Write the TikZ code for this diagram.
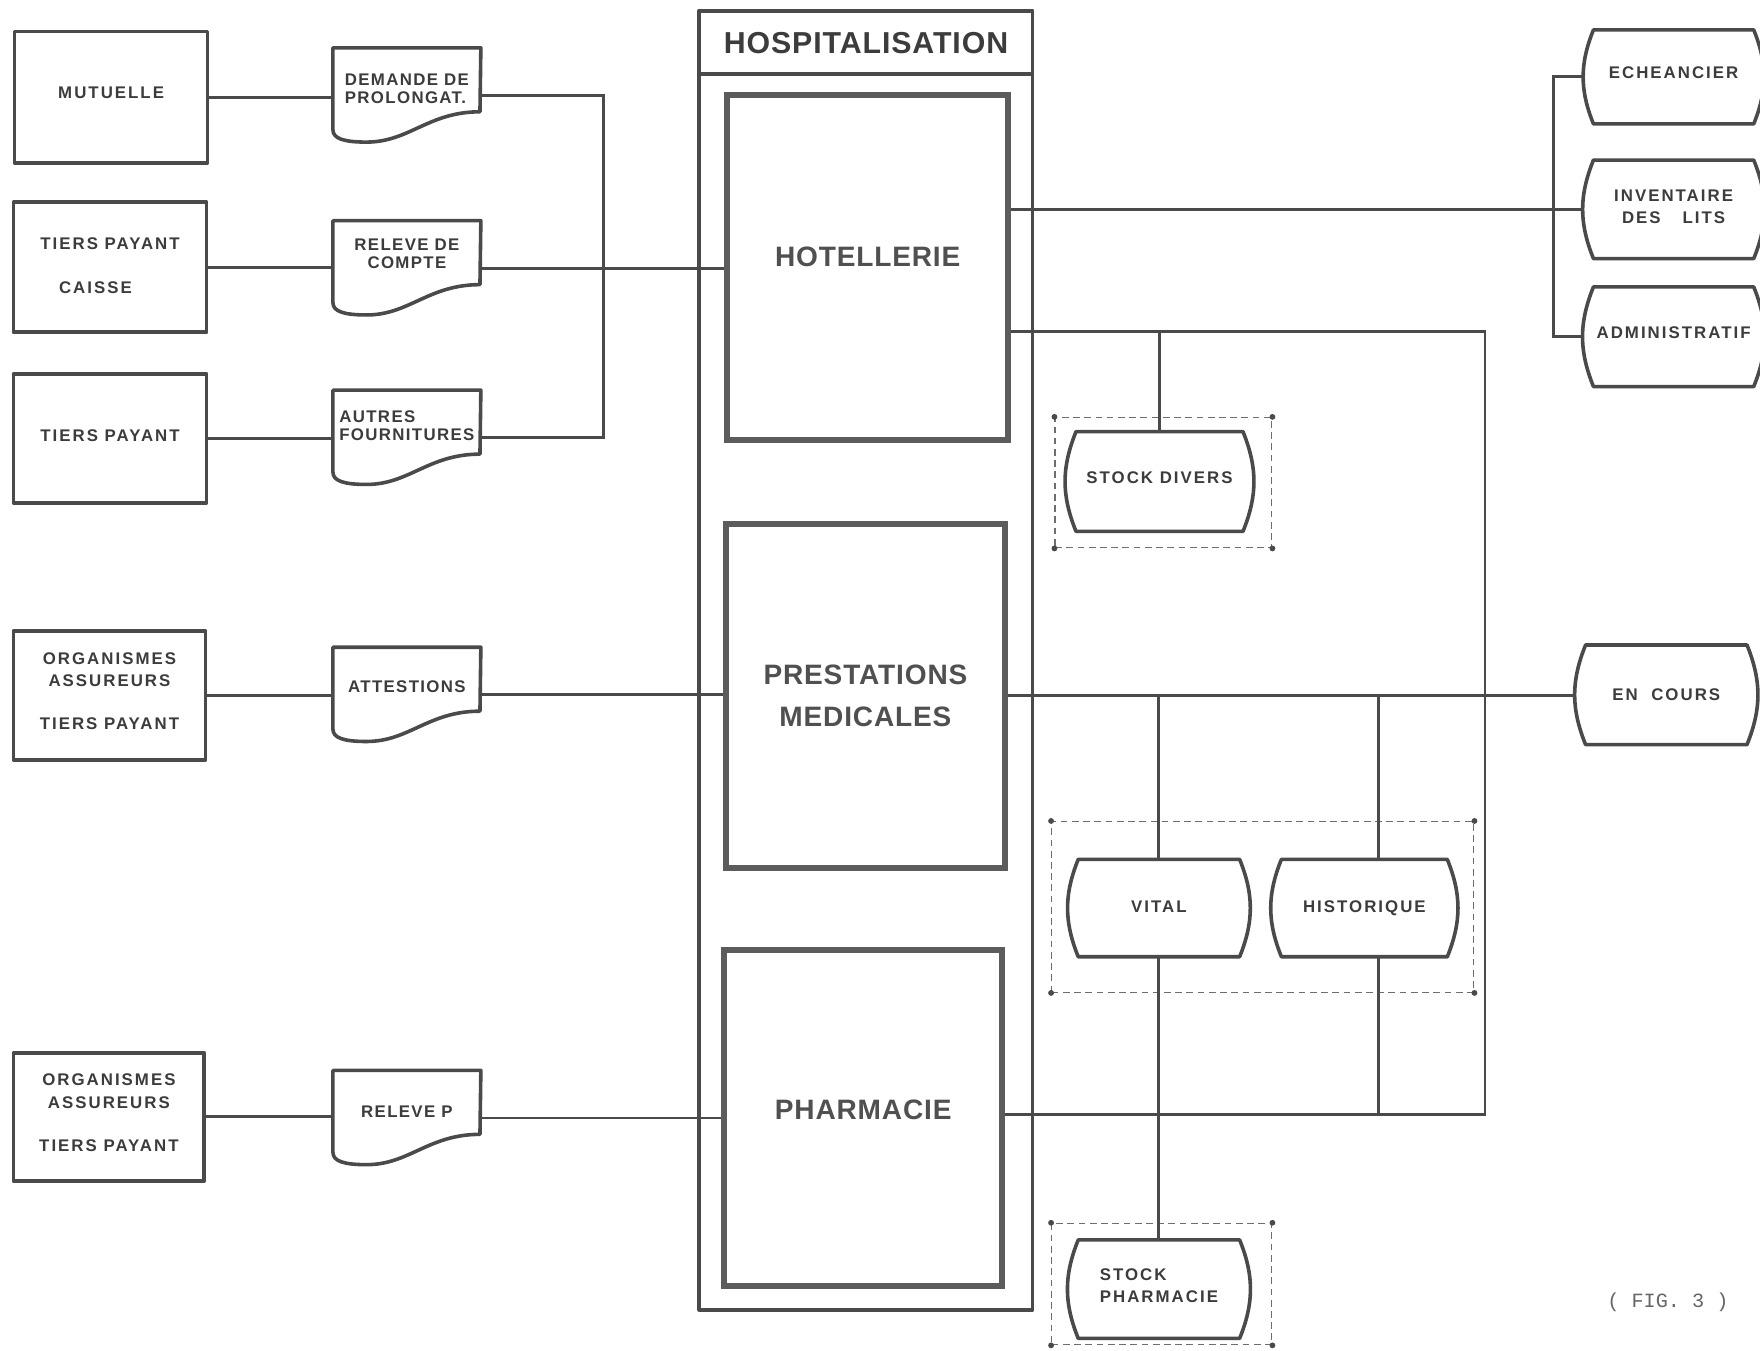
\documentclass[tikz,border=0pt]{standalone}
\usepackage{fontspec}
\setmainfont{Liberation Sans}
\newfontfamily\lblfam[LetterSpace=12]{Liberation Sans}
\newfontfamily\docfam[LetterSpace=8]{Liberation Sans}
\newfontfamily\bigfam[LetterSpace=3]{Liberation Sans}
\newfontfamily\figfam{Liberation Mono}
\usetikzlibrary{calc}
\definecolor{ink}{HTML}{4A4A4A}
\definecolor{txt}{HTML}{3C3C3C}
\newcommand\lblfont{\lblfam\bfseries\fontsize{7.5}{10}\selectfont}
\newcommand\docfont{\docfam\bfseries\fontsize{7.5}{8}\selectfont}
\newcommand\bigfont{\bigfam\bfseries\fontsize{12.5}{18.5}\selectfont}
\newcommand\titlefont{\bigfam\bfseries\fontsize{13.5}{16}\selectfont}
\newcommand\lines[2]{\begin{tabular}[t]{@{}#1@{}}#2\end{tabular}}
\newcommand\storepath[1]{%
  \draw[shp] ($(#1.north west)+(9,0)$) -- ($(#1.north east)+(-9,0)$)
    to[bend left=22] ($(#1.south east)+(-9,0)$) -- ($(#1.south west)+(9,0)$)
    to[bend left=22] cycle;}
\newcommand\docpath[1]{%
  \draw[shp] (#1.north west) -- (#1.north east) -- ($(#1.north west)+(131,57)$)
    .. controls ($(#1.north west)+(85,57)$) and ($(#1.north west)+(68,84)$) .. ($(#1.north west)+(30,84)$)
    .. controls ($(#1.north west)+(10,84)$) and ($(#1.north west)+(0,81)$) .. ($(#1.north west)+(0,73)$)
    -- cycle;}
\tikzset{
  span/.style n args={4}{at={({(#1+#3)/2},{(#2+#4)/2})}, minimum width={(#3-#1)*0.5pt}, minimum height={(#4-#2)*0.5pt}},
  shp/.style={draw=ink, line width=1.6pt, line join=round},
  con/.style={draw=ink, line width=1.3pt},
  ebox/.style={shp, inner sep=0pt, font=\lblfont, text=txt, text height=5.2pt},
  docn/.style={inner sep=0pt, font=\docfont, text=txt, text height=5.2pt},
  storen/.style={inner sep=0pt, font=\lblfont, text=txt, text height=5.2pt},
  bigbox/.style={draw=ink!90, line width=2.6pt, inner sep=0pt, font=\bigfont, text=txt!90, text height=8.6pt},
  grp/.style={draw=ink!80, line width=0.6pt, densely dashed, inner sep=0pt},
}
\begin{document}
\begin{tikzpicture}[x=0.5pt,y=-0.5pt]
\useasboundingbox (0,0) rectangle (1568,1203);
\clip (0,0) rectangle (1568,1203);
\fill[white] (0,0) rectangle (1568,1203);

% left external entities
\node[ebox, text depth=3.5pt, span={13}{28}{185}{145}] (mut) {MUTUELLE};
\node[ebox, text depth=21pt, span={12}{180}{184}{296}] (tpc) {\lines{c}{TIERS PAYANT\\[9.5pt]CAISSE\rule{13pt}{0pt}}};
\node[ebox, text depth=2.5pt, span={12}{333}{184}{448}] (tp) {TIERS PAYANT};
\node[ebox, text depth=33pt, span={12}{562}{183}{677}] (org1) {\lines{c}{ORGANISMES\\ASSUREURS\\[9pt]TIERS PAYANT}};
\node[ebox, text depth=33pt, span={12}{938}{182}{1052}] (org2) {\lines{c}{ORGANISMES\\ASSUREURS\\[9.5pt]TIERS PAYANT}};

% documents
\node[docn, text depth=14pt, span={297}{43}{428}{127}] (d1) {\lines{l}{DEMANDE DE\\PROLONGAT.}};
\node[docn, text depth=21pt, span={297}{197}{428}{281}] (d2) {\lines{c}{RELEVE DE\\COMPTE}};
\node[docn, text depth=19pt, span={297}{348}{428}{432}] (d3) {\lines{l}{AUTRES\\FOURNITURES}};
\node[docn, text depth=7pt, span={297}{577}{428}{661}] (d4) {ATTESTIONS};
\node[docn, text depth=5.5pt, span={297}{954}{428}{1038}] (d5) {RELEVE P};
\foreach \d in {d1,d2,d3,d4,d5} {\docpath{\d}}

% hospitalisation
\node[shp, inner sep=0pt, span={623}{10}{920}{1167}] (hosp) {};
\node[shp, inner sep=0pt, span={623}{10}{920}{66}, font=\titlefont, text=txt, text height=9.3pt, text depth=0pt] (htitle) {HOSPITALISATION};
\node[bigbox, text depth=9.5pt, span={648}{85}{898}{392}] (hot) {HOTELLERIE};
\node[bigbox, text depth=18.5pt, span={647}{467}{895}{773}] (pres) {\lines{c}{PRESTATIONS\\MEDICALES}};
\node[bigbox, text depth=7pt, span={645}{846}{893}{1146}] (pharm) {PHARMACIE};

% dashed groups
\node[grp, span={940}{372}{1133}{488}] (g1) {};
\node[grp, span={937}{732}{1313}{884}] (g2) {};
\node[grp, span={937}{1090}{1133}{1198}] (g3) {};
\foreach \g in {g1,g2,g3}
  \foreach \a in {north west,north east,south west,south east}
    \fill[ink] (\g.\a) circle (1.3pt);

% stores
\node[storen, text depth=3pt, span={950}{385}{1116}{473}] (sd) {STOCK DIVERS};
\node[storen, text depth=1pt, span={952}{766}{1113}{852}] (vit) {VITAL};
\node[storen, text depth=1pt, span={1133}{766}{1298}{852}] (his) {HISTORIQUE};
\node[storen, text depth=13pt, span={952}{1105}{1113}{1192}] (sp) {\lines{l}{STOCK\\PHARMACIE}};
\node[storen, text depth=3.5pt, span={1411}{27}{1571}{110}] (ech) {ECHEANCIER};
\node[storen, text depth=12.5pt, span={1411}{143}{1571}{230}] (inv) {\lines{c}{INVENTAIRE\\DES\hspace{1.3em}LITS}};
\node[storen, text depth=4pt, span={1411}{256}{1571}{344}] (adm) {ADMINISTRATIF};
\node[storen, text depth=0pt, span={1404}{575}{1565}{663}] (enc) {EN\hspace{0.8em}COURS};
\foreach \s in {sd,vit,his,sp,ech,inv,adm,enc} {\storepath{\s}}

% connectors left
\coordinate (lbus) at (538,238);
\draw[con] (mut.east) -- (mut.east -| d1.west);
\draw[con] (tpc.east) -- (tpc.east -| d2.west);
\draw[con] (tp.east) -- (tp.east -| d3.west);
\draw[con] (org1.east) -- (org1.east -| d4.west);
\draw[con] (org2.east) -- (org2.east -| d5.west);
\draw[con] (d1.east) -| (lbus) |- (d3.east);
\draw[con] (d2.east) -- (d2.east -| hot.west);
\draw[con] (d4.east) -- (d4.east -| pres.west);
\draw[con] (d5.east) -- (d5.east -| pharm.west);

% connectors right
\coordinate (rbus) at (1384,186);
\coordinate (k1) at (1323,295);
\coordinate (k2) at (1323,993);
\coordinate (hx) at (1228,620);
\draw[con] (ech.west) -| (rbus) |- (adm.west);
\draw[con] (hot.east |- inv.west) -- (inv.west);
\draw[con] (hot.east |- k1) -- (k1) -- (k2) -- (k2 -| pharm.east);
\draw[con] (sd.north) -- (sd.north |- k1);
\draw[con] (pres.east) -- (pres.east -| enc.west);
\draw[con] (vit.north) -- (vit.north |- pres.east);
\draw[con] (vit.south) -- (sp.north);
\draw[con] (his.north -| hx) -- (hx);
\draw[con] (his.south -| hx) -- (hx |- k2);

\node[font=\figfam\fontsize{9}{11}\selectfont, text=black!60] (fig) at (1486,1160) {( FIG. 3 )};
\end{tikzpicture}
\end{document}
